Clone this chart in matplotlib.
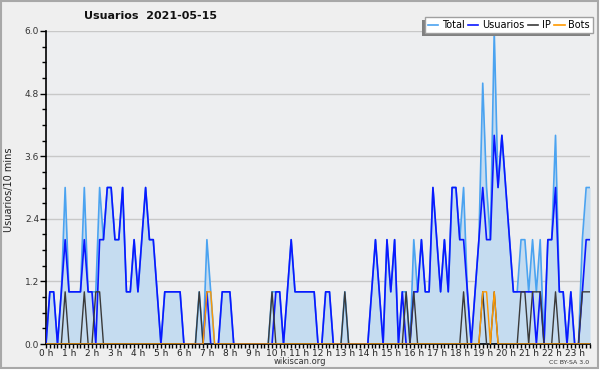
import numpy as np
import matplotlib
matplotlib.use('Agg')
import matplotlib.pyplot as plt
from matplotlib.patches import Rectangle
from matplotlib.ticker import FixedLocator, MultipleLocator
from matplotlib.lines import Line2D

# values per 10-minute slot, 00:00 .. 23:40
usuarios = [0, 1, 1, 0, 1, 2, 1, 1, 1, 1,
            2, 1, 1, 0, 2, 2, 3, 3, 2, 2,
            3, 1, 1, 2, 1, 2, 3, 2, 2, 1,
            0, 1, 1, 1, 1, 1, 0, 0, 0, 0,
            0, 0, 1, 0, 0, 0, 1, 1, 1, 0,
            0, 0, 0, 0, 0, 0, 0, 0, 0, 0,
            1, 1, 0, 1, 2, 1, 1, 1, 1, 1,
            1, 0, 0, 1, 1, 0, 0, 0, 0, 0,
            0, 0, 0, 0, 0, 1, 2, 1, 0, 2,
            1, 2, 0, 1, 0, 0, 1, 1, 2, 1,
            1, 3, 2, 1, 2, 1, 3, 3, 2, 2,
            1, 0, 1, 2, 3, 2, 2, 4, 3, 4,
            3, 2, 1, 1, 1, 1, 1, 1, 0, 1,
            0, 2, 2, 3, 1, 1, 0, 1, 0, 0,
            1, 2, 2]
ip = [0, 0, 0, 0, 0, 1, 0, 0, 0, 0,
      1, 0, 0, 1, 1, 0, 0, 0, 0, 0,
      0, 0, 0, 0, 0, 0, 0, 0, 0, 0,
      0, 0, 0, 0, 0, 0, 0, 0, 0, 0,
      1, 0, 0, 0, 0, 0, 0, 0, 0, 0,
      0, 0, 0, 0, 0, 0, 0, 0, 0, 1,
      0, 0, 0, 0, 0, 0, 0, 0, 0, 0,
      0, 0, 0, 0, 0, 0, 0, 0, 1, 0,
      0, 0, 0, 0, 0, 0, 0, 0, 0, 0,
      0, 0, 0, 0, 1, 0, 1, 0, 0, 0,
      0, 0, 0, 0, 0, 0, 0, 0, 0, 1,
      0, 0, 0, 0, 1, 0, 0, 1, 0, 0,
      0, 0, 0, 0, 1, 1, 0, 1, 1, 1,
      0, 0, 0, 1, 0, 0, 0, 0, 0, 0,
      1, 1, 1]
bots = [0, 0, 0, 0, 0, 0, 0, 0, 0, 0,
        0, 0, 0, 0, 0, 0, 0, 0, 0, 0,
        0, 0, 0, 0, 0, 0, 0, 0, 0, 0,
        0, 0, 0, 0, 0, 0, 0, 0, 0, 0,
        0, 0, 1, 1, 0, 0, 0, 0, 0, 0,
        0, 0, 0, 0, 0, 0, 0, 0, 0, 0,
        0, 0, 0, 0, 0, 0, 0, 0, 0, 0,
        0, 0, 0, 0, 0, 0, 0, 0, 0, 0,
        0, 0, 0, 0, 0, 0, 0, 0, 0, 0,
        0, 0, 0, 0, 0, 0, 0, 0, 0, 0,
        0, 0, 0, 0, 0, 0, 0, 0, 0, 0,
        0, 0, 0, 0, 1, 1, 0, 1, 0, 0,
        0, 0, 0, 0, 0, 0, 0, 0, 0, 0,
        0, 0, 0, 0, 0, 0, 0, 0, 0, 0,
        0, 0, 0]
total = [0, 1, 1, 0, 1, 3, 1, 1, 1, 1,
         3, 1, 1, 1, 3, 2, 3, 3, 2, 2,
         3, 1, 1, 2, 1, 2, 3, 2, 2, 1,
         0, 1, 1, 1, 1, 1, 0, 0, 0, 0,
         1, 0, 2, 1, 0, 0, 1, 1, 1, 0,
         0, 0, 0, 0, 0, 0, 0, 0, 0, 1,
         1, 1, 0, 1, 2, 1, 1, 1, 1, 1,
         1, 0, 0, 1, 1, 0, 0, 0, 1, 0,
         0, 0, 0, 0, 0, 1, 2, 1, 0, 2,
         1, 2, 0, 1, 1, 0, 2, 1, 2, 1,
         1, 3, 2, 1, 2, 1, 3, 3, 2, 3,
         1, 0, 1, 2, 5, 3, 2, 6, 3, 4,
         3, 2, 1, 1, 2, 2, 1, 2, 1, 2,
         0, 2, 2, 4, 1, 1, 0, 1, 0, 0,
         2, 3, 3]
hour_labels = [f"{h} h" for h in range(24)]
y_ticks = [0.0, 1.2, 2.4, 3.6, 4.8, 6.0]
series_names = ["Total", "Usuarios", "IP", "Bots"]

W, H = 600, 370
fig = plt.figure(figsize=(6, 3.7), dpi=100, facecolor='white')
# framed background
fig.add_artist(Rectangle((1, 2), 597, 367, transform=None, facecolor='#efefef',
                         edgecolor='#a8a8a8', lw=1.5, zorder=-10))

x = np.arange(len(total)) / 6.0
ax = fig.add_axes([46 / W, 1 - 344 / H, (590 - 46) / W, (344 - 31) / H])
ax.set_facecolor('#edeef0')

c_total, c_user, c_ip, c_bot = '#4ba3f0', '#0a18ff', '#3a3a3a', '#ff9900'
ax.fill_between(x, 0, total, color='#c5dcf0', lw=0, zorder=1)
ax.plot(x, total, color=c_total, lw=1.2, zorder=2)
ax.plot(x, usuarios, color=c_user, lw=1.2, zorder=3)
ax.plot(x, ip, color=c_ip, lw=1.0, zorder=4)
ax.plot(x, bots, color=c_bot, lw=1.0, zorder=5)

ax.set_xlim(0, x[-1])
ax.set_ylim(0, 6.0)
ax.yaxis.set_major_locator(FixedLocator(y_ticks))
ax.set_yticklabels([f"{v:.1f}" for v in y_ticks])
ax.yaxis.set_minor_locator(MultipleLocator(0.3))
ax.xaxis.set_major_locator(FixedLocator(range(24)))
ax.set_xticklabels(hour_labels)
ax.xaxis.set_minor_locator(MultipleLocator(1 / 6))
ax.yaxis.grid(True, which='major', color='#c8c8c8', lw=1)
ax.set_axisbelow(True)
for s in ['top', 'right']:
    ax.spines[s].set_visible(False)
for s in ['left', 'bottom']:
    ax.spines[s].set_color('black')
    ax.spines[s].set_linewidth(1.2)
ax.tick_params(axis='y', which='major', direction='out', length=4, width=1,
               labelsize=6.5, pad=1, colors='black', labelcolor='#333333')
ax.tick_params(axis='y', which='minor', direction='out', length=3, width=1)
ax.tick_params(axis='x', which='major', direction='out', length=3, width=1,
               labelsize=6.5, pad=0.5, colors='black', labelcolor='#222222')
ax.tick_params(axis='x', which='minor', direction='out', length=3, width=1)

fig.text(151 / W, 1 - 16 / H, 'Usuarios  2021-05-15', ha='center', va='center',
         fontsize=8, fontweight='bold', color='#111111')
fig.text(9 / W, 1 - 190 / H, 'Usuarios/10 mins', rotation=90, ha='center',
         va='center', fontsize=7, color='#222222')
fig.text(300 / W, 1 - 362 / H, 'wikiscan.org', ha='center', va='center',
         fontsize=6, color='#333333')
fig.text(569 / W, 1 - 362 / H, 'CC BY-SA 3.0', ha='center', va='center',
         fontsize=4.5, color='#333333')

handles = [Line2D([], [], color=c, lw=1.2) for c in [c_total, c_user, c_ip, c_bot]]
leg = fig.legend(handles, series_names, loc='upper right',
                 bbox_to_anchor=(593 / W, 1 - 17 / H), ncol=4, fontsize=7,
                 frameon=True, fancybox=False, edgecolor='#a0a0a0',
                 facecolor='white', framealpha=1, handlelength=1.1,
                 handletextpad=0.4, columnspacing=0.3, borderpad=0.3,
                 borderaxespad=0)
leg.get_frame().set_linewidth(1.0)
leg.set_zorder(6)
fig.canvas.draw()
bb = leg.get_window_extent()
fig.add_artist(Rectangle((bb.x0 - 3, bb.y0 - 3), bb.width, bb.height,
                         transform=None, facecolor='#808080', edgecolor='none',
                         zorder=5))

fig.savefig('out.png', dpi=100, facecolor=fig.get_facecolor())
